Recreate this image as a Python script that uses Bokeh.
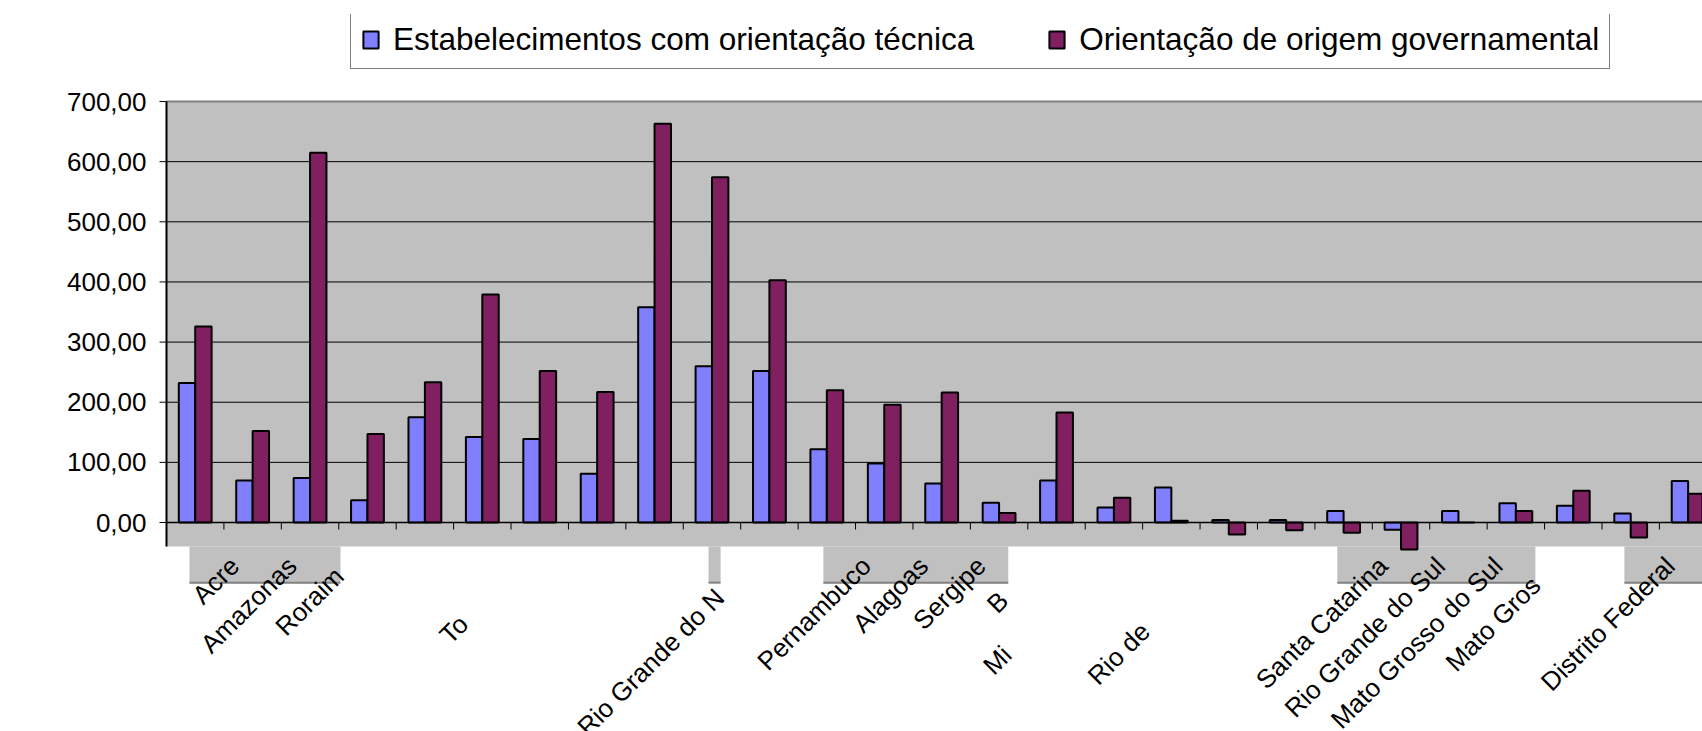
import math
from bokeh.plotting import figure
from bokeh.models import ColumnDataSource, FixedTicker, Legend, LegendItem, Label, Range1d
from bokeh.core.properties import value
from bokeh.embed import file_html
from bokeh.resources import INLINE

# ---------------- data ----------------
estados = ["Rondônia", "Acre", "Amazonas", "Roraima", "Pará", "Amapá", "Tocantins",
           "Maranhão", "Piauí", "Ceará", "Rio Grande do Norte", "Paraíba", "Pernambuco",
           "Alagoas", "Sergipe", "Bahia", "Minas Gerais", "Espírito Santo", "Rio de Janeiro",
           "São Paulo", "Paraná", "Santa Catarina", "Rio Grande do Sul", "Mato Grosso do Sul",
           "Mato Grosso", "Goiás", "Distrito Federal"]
orientacao_tecnica = [232, 70, 74, 37, 175, 142, 139, 81, 358, 260, 252, 122, 98, 65,
                      33, 70, 25, 58, 4, 4, 19, -12, 19, 32, 28, 15, 69]
orientacao_governamental = [326, 152, 615, 147, 233, 379, 252, 217, 663, 574, 403, 220, 196, 216,
                            16, 183, 41, 3, -20, -13, -17, -45, 0, 19, 53, -25, 48]
# part of each category label that is visible in the original picture
rotulos_visiveis = ["", "Acre", "Amazonas", "Roraim", "", "", "To", "", "", "",
                    "Rio Grande do N", "", "Pernambuco", "Alagoas", "Sergipe", "B", "Mi", "",
                    "Rio de", "", "", "Santa Catarina", "Rio Grande do Sul", "Mato Grosso do Sul",
                    "Mato Gros", "", "Distrito Federal"]
y_ticks = [0, 100, 200, 300, 400, 500, 600, 700]
y_tick_labels = ["0,00", "100,00", "200,00", "300,00", "400,00", "500,00", "600,00", "700,00"]
serie_nomes = ["Estabelecimentos com orientação técnica", "Orientação de origem governamental"]
y_titulo = "%"

# ---------------- layout ----------------
W, H = 1702, 731
BORDER_L, BORDER_T = 150, 14
AXIS_X_PX = 166                      # window x of the value axis line
FRAME_W, FRAME_H = W - BORDER_L, H - BORDER_T
CAT_PX = 57.42
PX_PER_UNIT = 0.6014
ZERO_FROM_TOP = 508
XA = -0.5                            # value axis position (category units)
X0 = XA - (AXIS_X_PX - BORDER_L) / CAT_PX
X1 = X0 + FRAME_W / CAT_PX
Y1 = ZERO_FROM_TOP / PX_PER_UNIT
Y0 = Y1 - FRAME_H / PX_PER_UNIT
AX_MIN, AX_MAX = -100, 700
TILE_CUT = -40
BAR_W = 1 / 3.5
TICK_Y = 7 / PX_PER_UNIT
TICK_X = 7 / CAT_PX
FONT = "Liberation Sans"
LAB_PX = 26
BLUE, PURPLE, SILVER, DARK = "#8080FF", "#802060", "#C0C0C0", "#808080"

# grey strips of the plot area below the zero band (x in category units)
faixas_cinza = [(-0.1, 2.53), (8.94, 9.15), (10.94, 14.16), (19.89, 23.34), (24.89, X1 + 1)]

p = figure(width=W, height=H, x_range=Range1d(X0, X1), y_range=Range1d(Y0, Y1),
           output_backend="svg", toolbar_location=None, x_axis_location=None,
           min_border_left=BORDER_L, min_border_right=0, min_border_top=BORDER_T,
           min_border_bottom=0)
p.background_fill_color = "white"
p.border_fill_color = "white"
p.outline_line_color = None
p.grid.visible = False

ya = p.yaxis[0]
ya.ticker = FixedTicker(ticks=y_ticks, minor_ticks=[])
ya.major_label_overrides = {t: l for t, l in zip(y_ticks, y_tick_labels)}
ya.major_tick_out = 0
ya.major_tick_in = 0
ya.major_tick_line_color = None
ya.minor_tick_line_color = None
ya.axis_line_color = None
ya.major_label_standoff = 4
ya.major_label_text_font = FONT
ya.major_label_text_font_size = "26px"
ya.major_label_text_color = "black"

# silver plot area: main band and the strips below it
p.quad(left=[XA] + [a for a, b in faixas_cinza], right=[X1 + 1] + [b for a, b in faixas_cinza],
       bottom=[TILE_CUT] + [AX_MIN] * len(faixas_cinza),
       top=[AX_MAX] + [TILE_CUT] * len(faixas_cinza),
       fill_color=SILVER, line_color=None)
# gridlines
grid_y = y_ticks[1:-1]
p.segment(x0=[XA] * len(grid_y), x1=[X1 + 1] * len(grid_y), y0=grid_y, y1=grid_y,
          line_color="black", line_width=1)
# plot-area borders
p.segment(x0=[XA] + [a for a, b in faixas_cinza], x1=[X1 + 1] + [b for a, b in faixas_cinza],
          y0=[AX_MAX] + [AX_MIN] * len(faixas_cinza), y1=[AX_MAX] + [AX_MIN] * len(faixas_cinza),
          line_color=DARK, line_width=2)

# bars
idx = list(range(len(estados)))
src = ColumnDataSource(dict(
    xb=[i - BAR_W / 2 for i in idx], xp=[i + BAR_W / 2 for i in idx],
    tec=orientacao_tecnica, gov=orientacao_governamental))
r1 = p.vbar(x="xb", width=BAR_W, top="tec", bottom=0, source=src,
            fill_color=BLUE, line_color="black", line_width=2)
r2 = p.vbar(x="xp", width=BAR_W, top="gov", bottom=0, source=src,
            fill_color=PURPLE, line_color="black", line_width=2)

# category axis at zero: line and ticks between categories
p.segment(x0=[XA], x1=[X1 + 1], y0=[0], y1=[0], line_color="black", line_width=1.5)
p.segment(x0=[i + 0.5 for i in idx[:-1]], x1=[i + 0.5 for i in idx[:-1]],
          y0=[0] * (len(idx) - 1), y1=[-TICK_Y] * (len(idx) - 1),
          line_color="black", line_width=1)
# value axis line and its ticks
p.segment(x0=[XA], x1=[XA], y0=[TILE_CUT], y1=[AX_MAX], line_color="black", line_width=2)
p.segment(x0=[XA - TICK_X] * len(y_ticks), x1=[XA] * len(y_ticks), y0=y_ticks, y1=y_ticks,
          line_color="black", line_width=1)

# category labels (rotated); hidden tails shift the visible fragment
ARIAL = {"a": .556, "c": .5, "n": .556, "t": .278, "i": .222, "s": .5, "o": .556,
         "r": .333, "e": .556, "h": .556, " ": .278, "G": .778, "J": .5}
c45 = math.cos(math.pi / 4)
lx, ly, lt, lxo, lyo = [], [], [], [], []
for i, (nome, vis) in enumerate(zip(estados, rotulos_visiveis)):
    if not vis:
        continue
    tail = nome[len(vis):]
    d = sum(ARIAL.get(ch, .556) for ch in tail) * LAB_PX * c45
    lx.append(i)
    ly.append(0)
    lt.append(vis)
    lxo.append(-18 - d)
    lyo.append(39 + d)
lab = ColumnDataSource(dict(x=lx, y=ly, t=lt, xo=lxo, yo=lyo))
p.text(x="x", y="y", text="t", x_offset="xo", y_offset="yo", source=lab,
       angle=math.pi / 4, text_align="right", text_baseline="middle",
       text_font=value(FONT), text_font_size=f"{LAB_PX}px", text_color="black")

# y title
p.add_layout(Label(x=22 - BORDER_L, y=(AX_MIN + AX_MAX) / 2, x_units="screen", y_units="data",
                   text=y_titulo, angle=math.pi / 2, text_align="center",
                   text_baseline="middle", text_font=FONT, text_font_size="26px",
                   text_font_style="bold", text_color="black"))

legend = Legend(items=[LegendItem(label=serie_nomes[0], renderers=[r1]),
                       LegendItem(label=serie_nomes[1], renderers=[r2])],
                orientation="horizontal", location=(350 - BORDER_L, H - 69), padding=10,
                spacing=73, glyph_width=19, glyph_height=21, label_standoff=13,
                label_text_font=FONT, label_text_font_size="31.5px", label_text_color="black",
                border_line_color="black", border_line_width=1,
                background_fill_color="white", background_fill_alpha=1, margin=0)
p.add_layout(legend)

open("out.html", "w").write(file_html(p, INLINE))
